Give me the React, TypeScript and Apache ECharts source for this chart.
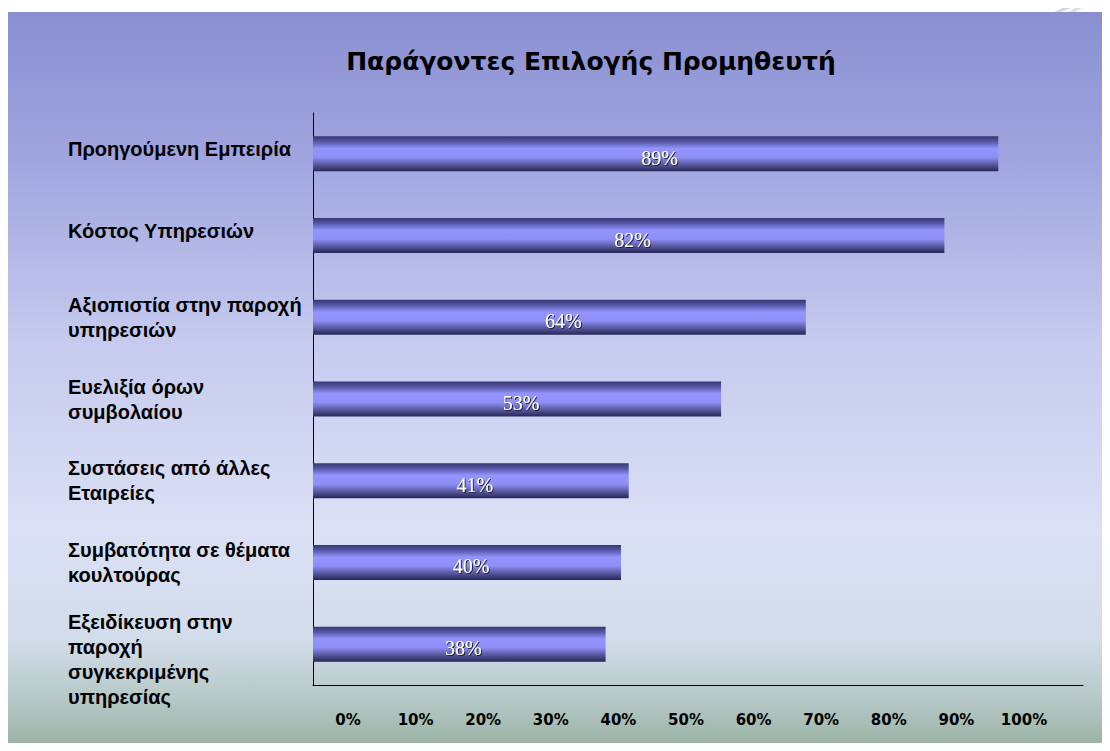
import React, { useEffect, useRef } from "react";
import * as echarts from "echarts";

const titleText = "Παράγοντες Επιλογής Προμηθευτή";
const categories = [
  "Προηγούμενη Εμπειρία",
  "Κόστος Υπηρεσιών",
  "Αξιοπιστία στην παροχή\nυπηρεσιών",
  "Ευελιξία όρων\nσυμβολαίου",
  "Συστάσεις από άλλες\nΕταιρείες",
  "Συμβατότητα σε θέματα\nκουλτούρας",
  "Εξειδίκευση στην\nπαροχή\nσυγκεκριμένης\nυπηρεσίας",
];
const values = [89, 82, 64, 53, 41, 40, 38];
const tickMin = 0;
const tickMax = 100;
const tickStep = 10;

export default function App() {
  const ref = useRef<HTMLDivElement>(null);
  useEffect(() => {
    if (!ref.current) return;
    const chart = echarts.init(ref.current, undefined, { renderer: "svg" });
    chart.setOption({
      animation: false,
      backgroundColor: "#ffffff",
      graphic: [
        {
          type: "arc",
          z: -10,
          shape: { cx: 1110, cy: 120, r: 120, startAngle: Math.PI, endAngle: Math.PI * 1.6 },
          style: { stroke: "#d4d4d4", lineWidth: 3, fill: "none" },
        },
        {
          type: "arc",
          z: -10,
          shape: { cx: 1150, cy: 140, r: 150, startAngle: Math.PI * 1.05, endAngle: Math.PI * 1.6 },
          style: { stroke: "#dcdcdc", lineWidth: 3, fill: "none" },
        },
        {
          type: "arc",
          z: -10,
          shape: { cx: 1190, cy: 160, r: 190, startAngle: Math.PI * 1.1, endAngle: Math.PI * 1.6 },
          style: { stroke: "#e2e2e2", lineWidth: 2, fill: "none" },
        },
        {
          type: "rect",
          z: -9,
          shape: { x: 8, y: 12, width: 1102, height: 739 },
          style: {
            fill: new echarts.graphic.LinearGradient(0, 0, 0, 1, [
              { offset: 0, color: "#8a8fd1" },
              { offset: 0.2, color: "#a0a5df" },
              { offset: 0.45, color: "#c6cbef" },
              { offset: 0.7, color: "#dbe0f5" },
              { offset: 0.85, color: "#d2dcea" },
              { offset: 0.93, color: "#b5c8c6" },
              { offset: 1, color: "#98b1a1" },
            ]),
          },
        },
      ],
      title: {
        text: titleText,
        left: 586,
        top: 44,
        textAlign: "center",
        textStyle: {
          fontFamily: "DejaVu Sans",
          fontWeight: "bold",
          fontSize: 25,
          color: "#000000",
        },
      },
      grid: [
        { left: 313, right: 27, top: 113, bottom: 66, containLabel: false, outerBoundsMode: "none" },
        { left: 348, right: 86, top: 700, height: 1, containLabel: false, outerBoundsMode: "none" },
      ],
      xAxis: [
        {
          type: "value",
          gridIndex: 0,
          min: tickMin,
          max: tickMax,
          interval: tickStep,
          axisLine: { show: true, lineStyle: { color: "#000000", width: 1 } },
          axisTick: { show: false },
          axisLabel: { show: false },
          splitLine: { show: false },
        },
        {
          type: "value",
          gridIndex: 1,
          min: tickMin,
          max: tickMax,
          interval: tickStep,
          axisLine: { show: false },
          axisTick: { show: false },
          splitLine: { show: false },
          axisLabel: {
            show: true,
            margin: 11,
            formatter: "{value}%",
            fontFamily: "DejaVu Sans",
            fontWeight: "bold",
            fontSize: 15,
            color: "#000000",
          },
        },
      ],
      yAxis: [
        {
          type: "category",
          gridIndex: 0,
          inverse: true,
          data: categories,
          axisLine: { show: true, lineStyle: { color: "#000000", width: 1 } },
          axisTick: { show: false },
          axisLabel: {
            align: "left",
            margin: 245,
            interval: 0,
            hideOverlap: false,
            fontFamily: "Liberation Sans",
            fontWeight: "bold",
            fontSize: 20,
            lineHeight: 25,
            color: "#000000",
            formatter: (v: string, i: number) =>
              i === 6 ? "{gap|}\n" + v : i < 2 ? v + "\n{gapS|}" : v,
            rich: {
              gap: { height: 30, lineHeight: 30 },
              gapS: { height: 10, lineHeight: 10 },
            },
          },
        },
        {
          type: "value",
          gridIndex: 1,
          show: false,
          min: 0,
          max: 1,
        },
      ],
      series: [
        {
          type: "bar",
          xAxisIndex: 0,
          yAxisIndex: 0,
          data: values,
          barWidth: 35,
          itemStyle: {
            color: new echarts.graphic.LinearGradient(0, 0, 0, 1, [
              { offset: 0, color: "#363670" },
              { offset: 0.15, color: "#5656a6" },
              { offset: 0.35, color: "#9494ff" },
              { offset: 0.6, color: "#8e8ef6" },
              { offset: 0.8, color: "#5a5aa2" },
              { offset: 1, color: "#262656" },
            ]),
          },
          label: {
            show: true,
            position: "inside",
            offset: [4, 4],
            formatter: "{c}%",
            fontFamily: "Liberation Serif",
            fontSize: 20,
            color: "#fffff2",
            textShadowColor: "#1a1a3a",
            textShadowOffsetX: 1,
            textShadowOffsetY: 1,
            textShadowBlur: 1,
          },
        },
      ],
    });
    return () => chart.dispose();
  }, []);
  return <div ref={ref} style={{ width: 1110, height: 751, margin: -8 }} />;
}
